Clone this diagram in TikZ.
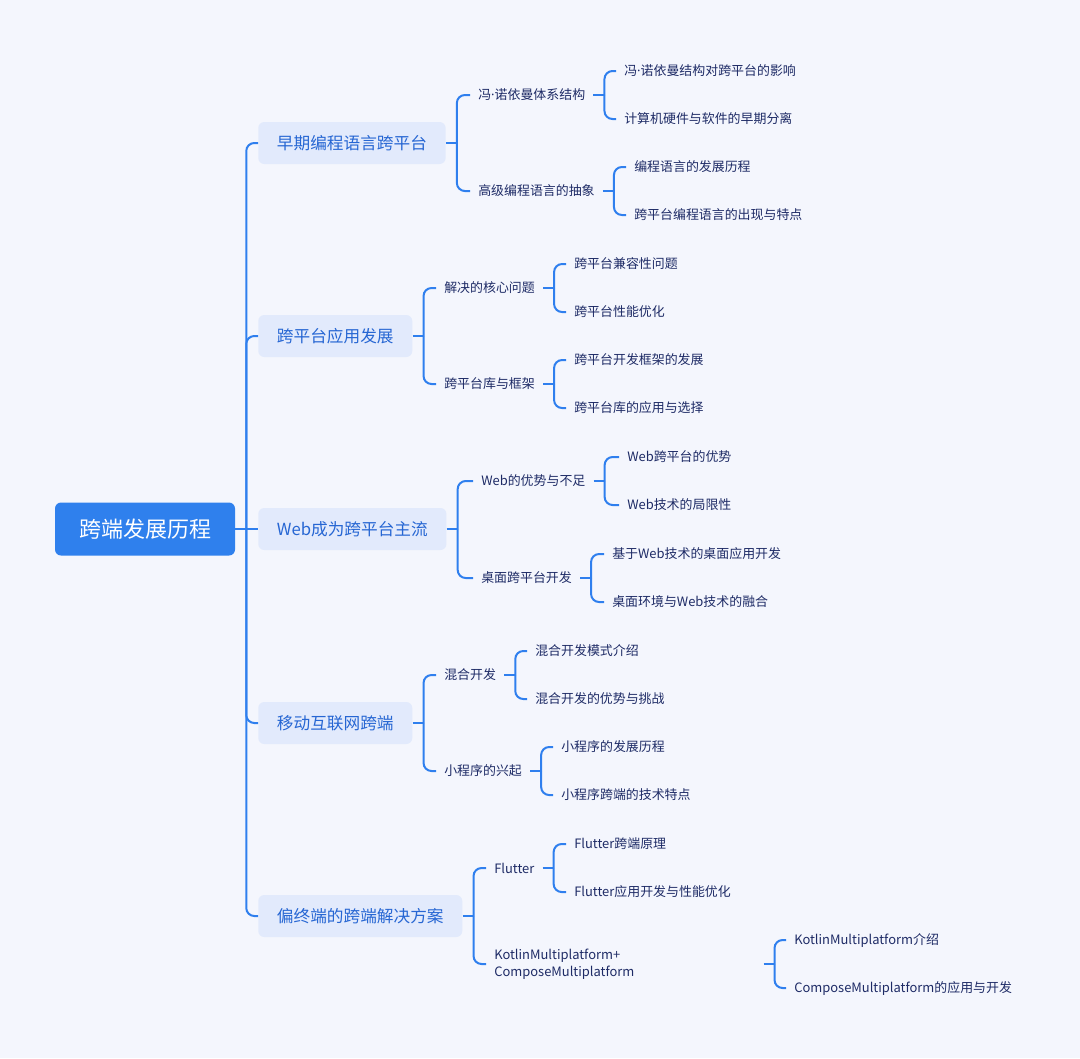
\documentclass[tikz,border=0pt]{standalone}
\usepackage{fontspec}
\setmainfont{Noto Sans CJK SC}
\newfontfamily\latinfont{Noto Sans}
\definecolor{bgcol}{HTML}{F4F6FD}
\definecolor{rootcol}{HTML}{2F80ED}
\definecolor{boxcol}{HTML}{E2EAFC}
\definecolor{boxtext}{HTML}{2666D3}
\definecolor{leaftext}{HTML}{1E2B66}
\definecolor{linecol}{HTML}{2F7FEE}
\tikzset{
	rootbox/.style={fill=rootcol,text=white,rounded corners=4.5pt,minimum width=135pt,minimum height=39.75pt,font=\fontsize{16.5}{20}\selectfont},
	topicbox/.style={fill=boxcol,text=boxtext,rounded corners=4.5pt,anchor=west,inner xsep=14pt,minimum height=31.5pt,font=\fontsize{12.5}{15}\selectfont},
	leaf/.style={text=leaftext,anchor=west,inner xsep=6pt,inner ysep=2pt,font=\fontsize{9.7}{12.75}\selectfont},
	link/.style={draw=linecol,line width=1.5pt,rounded corners=6pt}
}
\begin{document}
\begin{tikzpicture}[x=0.75pt,y=-0.75pt]
	\fill[bgcol] (0,0) rectangle (1080,1058);
	\useasboundingbox (0,0) rectangle (1080,1058);
	\node[rootbox] (root) at (145,529) {跨端发展历程};
	\node[topicbox] (t1) at (258,143) {早期编程语言跨平台};
	\node[topicbox] (t2) at (258,336) {跨平台应用发展};
	\node[topicbox] (t3) at (258,529) {Web成为跨平台主流};
	\node[topicbox] (t4) at (258,723) {移动互联网跨端};
	\node[topicbox] (t5) at (258,916) {偏终端的跨端解决方案};
	\node[leaf] (t11) at (470,95) {冯{\latinfont ·}诺依曼体系结构};
	\node[leaf] (t12) at (470,191) {高级编程语言的抽象};
	\node[leaf] (t21) at (436,288) {解决的核心问题};
	\node[leaf] (t22) at (436,384) {跨平台库与框架};
	\node[leaf] (t31) at (473,481) {Web的优势与不足};
	\node[leaf] (t32) at (473,578) {桌面跨平台开发};
	\node[leaf] (t41) at (436,675) {混合开发};
	\node[leaf] (t42) at (436,771) {小程序的兴起};
	\node[leaf] (t51) at (486,868) {Flutter};
	\node[leaf,text width=195.75pt,align=left] (t52) at (486,964) {KotlinMultiplatform+\\ComposeMultiplatform};
	\node[leaf] (t111) at (616,71) {冯{\latinfont ·}诺依曼结构对跨平台的影响};
	\node[leaf] (t112) at (616,119) {计算机硬件与软件的早期分离};
	\node[leaf] (t121) at (626,167) {编程语言的发展历程};
	\node[leaf] (t122) at (626,215) {跨平台编程语言的出现与特点};
	\node[leaf] (t211) at (566,264) {跨平台兼容性问题};
	\node[leaf] (t212) at (566,312) {跨平台性能优化};
	\node[leaf] (t221) at (566,360) {跨平台开发框架的发展};
	\node[leaf] (t222) at (566,408) {跨平台库的应用与选择};
	\node[leaf] (t311) at (619,457) {Web跨平台的优势};
	\node[leaf] (t312) at (619,505) {Web技术的局限性};
	\node[leaf] (t321) at (604,554) {基于Web技术的桌面应用开发};
	\node[leaf] (t322) at (604,602) {桌面环境与Web技术的融合};
	\node[leaf] (t411) at (527,651) {混合开发模式介绍};
	\node[leaf] (t412) at (527,699) {混合开发的优势与挑战};
	\node[leaf] (t421) at (553,747) {小程序的发展历程};
	\node[leaf] (t422) at (553,795) {小程序跨端的技术特点};
	\node[leaf] (t511) at (566,844) {Flutter跨端原理};
	\node[leaf] (t512) at (566,892) {Flutter应用开发与性能优化};
	\node[leaf] (t521) at (786,940) {KotlinMultiplatform介绍};
	\node[leaf] (t522) at (786,988) {ComposeMultiplatform的应用与开发};
	\draw[link] (root.east) -- ++(11,0) coordinate (b0);
	\draw[link] (b0) |- (t1.west);
	\draw[link] (b0) |- (t2.west);
	\draw[link] (b0) -- (t3.west);
	\draw[link] (b0) |- (t4.west);
	\draw[link] (b0) |- (t5.west);
	\draw[link] (t1.east) -- ++(11,0) coordinate (b1);
	\draw[link] (b1) |- (t11.west);
	\draw[link] (b1) |- (t12.west);
	\draw[link] (t2.east) -- ++(11,0) coordinate (b2);
	\draw[link] (b2) |- (t21.west);
	\draw[link] (b2) |- (t22.west);
	\draw[link] (t3.east) -- ++(11,0) coordinate (b3);
	\draw[link] (b3) |- (t31.west);
	\draw[link] (b3) |- (t32.west);
	\draw[link] (t4.east) -- ++(11,0) coordinate (b4);
	\draw[link] (b4) |- (t41.west);
	\draw[link] (b4) |- (t42.west);
	\draw[link] (t5.east) -- ++(11,0) coordinate (b5);
	\draw[link] (b5) |- (t51.west);
	\draw[link] (b5) |- (t52.west);
	\draw[link] (t11.east) -- ++(11,0) coordinate (b11);
	\draw[link] (b11) |- (t111.west);
	\draw[link] (b11) |- (t112.west);
	\draw[link] (t12.east) -- ++(11,0) coordinate (b12);
	\draw[link] (b12) |- (t121.west);
	\draw[link] (b12) |- (t122.west);
	\draw[link] (t21.east) -- ++(11,0) coordinate (b21);
	\draw[link] (b21) |- (t211.west);
	\draw[link] (b21) |- (t212.west);
	\draw[link] (t22.east) -- ++(11,0) coordinate (b22);
	\draw[link] (b22) |- (t221.west);
	\draw[link] (b22) |- (t222.west);
	\draw[link] (t31.east) -- ++(11,0) coordinate (b31);
	\draw[link] (b31) |- (t311.west);
	\draw[link] (b31) |- (t312.west);
	\draw[link] (t32.east) -- ++(11,0) coordinate (b32);
	\draw[link] (b32) |- (t321.west);
	\draw[link] (b32) |- (t322.west);
	\draw[link] (t41.east) -- ++(11,0) coordinate (b41);
	\draw[link] (b41) |- (t411.west);
	\draw[link] (b41) |- (t412.west);
	\draw[link] (t42.east) -- ++(11,0) coordinate (b42);
	\draw[link] (b42) |- (t421.west);
	\draw[link] (b42) |- (t422.west);
	\draw[link] (t51.east) -- ++(11,0) coordinate (b51);
	\draw[link] (b51) |- (t511.west);
	\draw[link] (b51) |- (t512.west);
	\draw[link] (t52.east) -- ++(11,0) coordinate (b52);
	\draw[link] (b52) |- (t521.west);
	\draw[link] (b52) |- (t522.west);
\end{tikzpicture}
\end{document}
